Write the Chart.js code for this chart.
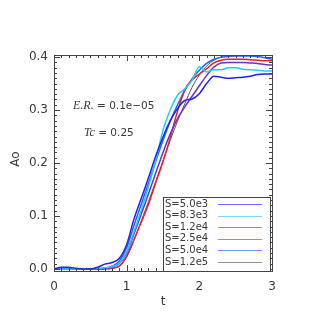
<!DOCTYPE html>
<html>
<head>
<meta charset="utf-8">
<script src="https://cdn.jsdelivr.net/npm/chart.js@4.4.0/dist/chart.umd.min.js"></script>
<style>
  html, body { margin: 0; padding: 0; background: #fff; }
  canvas { display: block; }
</style>
</head>
<body>
<canvas id="aoChart" width="327" height="327"></canvas>
<script>
// time axis (t) and Ao values
const tValues = [0.0, 0.1, 0.2, 0.3, 0.4, 0.5, 0.6, 0.7, 0.8, 0.9, 1.0, 1.1, 1.2, 1.3, 1.4, 1.5,
                 1.6, 1.7, 1.8, 1.9, 2.0, 2.1, 2.2, 2.3, 2.4, 2.5, 2.6, 2.7, 2.8, 2.9, 3.0];

const seriesNames = ['S=5.0e3', 'S=8.3e3', 'S=1.2e4', 'S=2.5e4', 'S=5.0e4', 'S=1.2e5'];
const seriesColors = ['#2222ee', '#22ccff', '#6a30cc', '#ee1c24', '#1f66ff', '#555555'];

const ao_5_0e3 = [0.000, 0.003, 0.003, 0.001, 0.000, 0.000, 0.003, 0.009, 0.012, 0.020, 0.046, 0.094, 0.133, 0.172, 0.213, 0.249,
                  0.280, 0.303, 0.318, 0.321, 0.331, 0.350, 0.364, 0.362, 0.360, 0.361, 0.362, 0.364, 0.367, 0.368, 0.368];
const ao_8_3e3 = [0.000, 0.000, 0.000, 0.000, 0.000, 0.000, 0.001, 0.002, 0.004, 0.011, 0.032, 0.070, 0.111, 0.155, 0.205, 0.262,
                  0.300, 0.328, 0.340, 0.356, 0.382, 0.372, 0.376, 0.376, 0.380, 0.380, 0.377, 0.376, 0.375, 0.374, 0.374];
const ao_1_2e4 = [0.000, 0.000, 0.000, 0.000, 0.000, 0.000, 0.000, 0.001, 0.003, 0.010, 0.030, 0.066, 0.103, 0.142, 0.181, 0.220,
                  0.255, 0.284, 0.306, 0.326, 0.346, 0.365, 0.381, 0.389, 0.390, 0.390, 0.390, 0.389, 0.388, 0.386, 0.385];
const ao_2_5e4 = [0.000, 0.000, 0.000, 0.000, 0.000, 0.000, 0.000, 0.000, 0.001, 0.005, 0.024, 0.055, 0.088, 0.122, 0.163, 0.203,
                  0.248, 0.298, 0.338, 0.357, 0.368, 0.378, 0.389, 0.394, 0.396, 0.396, 0.396, 0.395, 0.394, 0.393, 0.393];
const ao_5_0e4 = [0.000, 0.000, 0.000, 0.000, 0.000, 0.000, 0.000, 0.001, 0.005, 0.015, 0.040, 0.082, 0.122, 0.162, 0.203, 0.243,
                  0.279, 0.310, 0.337, 0.359, 0.375, 0.388, 0.396, 0.400, 0.401, 0.402, 0.402, 0.402, 0.401, 0.399, 0.396];
const ao_1_2e5 = [0.000, 0.000, 0.000, 0.000, 0.000, 0.000, 0.000, 0.000, 0.001, 0.006, 0.022, 0.054, 0.090, 0.127, 0.165, 0.204,
                  0.243, 0.279, 0.312, 0.343, 0.366, 0.383, 0.394, 0.400, 0.402, 0.403, 0.403, 0.403, 0.403, 0.403, 0.403];

const seriesValues = [ao_5_0e3, ao_8_3e3, ao_1_2e4, ao_2_5e4, ao_5_0e4, ao_1_2e5];

const xTickValues = [0, 1, 2, 3];
const xTickLabels = ['0', '1', '2', '3'];
const yTickValues = [0.0, 0.1, 0.2, 0.3, 0.4];
const yTickLabels = ['0.0', '0.1', '0.2', '0.3', '0.4'];

const textColor = '#3a3a3a';
const sansFont = '"DejaVu Sans", sans-serif';

const datasets = seriesNames.map((name, i) => ({
    label: name,
    data: tValues.map((t, j) => ({ x: t, y: seriesValues[i][j] })),
    borderColor: seriesColors[i],
    borderWidth: i === 5 ? 1 : 1.5,
    pointRadius: 0,
    fill: false,
    cubicInterpolationMode: 'monotone'
}));

// IDL-style frame: inward ticks on all four sides, labels, notes, boxed legend
const idlFrame = {
    id: 'idlFrame',
    afterDraw(chart) {
        const ctx = chart.ctx;
        const a = chart.chartArea;
        const xs = chart.scales.x;
        const ys = chart.scales.y;
        ctx.save();
        ctx.strokeStyle = '#444';
        ctx.lineWidth = 1;
        ctx.strokeRect(a.left + 0.5, a.top + 0.5, a.right - a.left, a.bottom - a.top);

        ctx.beginPath();
        // x ticks, minor every 0.1
        for (let k = 0; k <= 30; k++) {
            const px = Math.round(xs.getPixelForValue(k / 10)) + 0.5;
            const len = k % 10 === 0 ? 6 : 3;
            ctx.moveTo(px, a.bottom); ctx.lineTo(px, a.bottom - len);
            ctx.moveTo(px, a.top); ctx.lineTo(px, a.top + len);
        }
        // y ticks, minor every 0.01
        for (let k = 0; k <= 40; k++) {
            const py = Math.round(ys.getPixelForValue(k / 100)) + 0.5;
            const len = k % 10 === 0 ? 6 : 3;
            ctx.moveTo(a.left, py); ctx.lineTo(a.left + len, py);
            ctx.moveTo(a.right, py); ctx.lineTo(a.right - len, py);
        }
        ctx.stroke();

        ctx.fillStyle = textColor;
        ctx.font = '12px ' + sansFont;
        ctx.textAlign = 'center';
        ctx.textBaseline = 'middle';
        xTickValues.forEach((v, i) => {
            ctx.fillText(xTickLabels[i], xs.getPixelForValue(v), 287);
        });
        ctx.textAlign = 'right';
        yTickValues.forEach((v, i) => {
            ctx.fillText(yTickLabels[i], 48, ys.getPixelForValue(v));
        });

        // axis titles
        ctx.textAlign = 'center';
        ctx.fillText('t', (a.left + a.right) / 2, 302);
        ctx.save();
        ctx.translate(16, 159);
        ctx.rotate(-Math.PI / 2);
        ctx.fillText('Ao', 0, 0);
        ctx.restore();

        // notes
        ctx.textAlign = 'left';
        ctx.font = 'italic 12px "Liberation Serif", serif';
        ctx.fillText('E.R.', 73, 106);
        let w = ctx.measureText('E.R.').width;
        ctx.font = '10.5px ' + sansFont;
        ctx.fillText(' = 0.1e\u221205', 73 + w, 106);
        ctx.font = 'italic 12px "Liberation Serif", serif';
        ctx.fillText('Tc', 84, 133);
        w = ctx.measureText('Tc').width;
        ctx.font = '10.5px ' + sansFont;
        ctx.fillText(' = 0.25', 84 + w, 133);

        // legend box
        const lx = 163, ly = 197, lr = 270;
        ctx.fillStyle = '#fff';
        ctx.fillRect(lx, ly, lr - lx, a.bottom - ly);
        ctx.strokeStyle = '#444';
        ctx.strokeRect(lx + 0.5, ly + 0.5, lr - lx, a.bottom - ly);
        ctx.font = '10px ' + sansFont;
        ctx.textBaseline = 'middle';
        seriesNames.forEach((name, i) => {
            const ry = 204 + i * 11.6;
            ctx.fillStyle = textColor;
            ctx.fillText(name, 165, ry);
            ctx.globalAlpha = 0.65;
            ctx.strokeStyle = seriesColors[i];
            ctx.beginPath();
            ctx.moveTo(218, Math.round(ry) + 0.5);
            ctx.lineTo(262, Math.round(ry) + 0.5);
            ctx.stroke();
            ctx.globalAlpha = 1;
        });
        ctx.restore();
    }
};

const chart = new Chart(document.getElementById('aoChart').getContext('2d'), {
    type: 'line',
    data: { datasets: datasets },
    options: {
        responsive: false,
        animation: false,
        layout: { padding: { left: 54, right: 55, top: 55, bottom: 56 } },
        plugins: { legend: { display: false }, tooltip: { enabled: false } },
        scales: {
            x: { type: 'linear', min: 0, max: 3, display: false },
            y: { type: 'linear', min: -0.004, max: 0.404, display: false }
        }
    },
    plugins: [idlFrame]
});
</script>
</body>
</html>
